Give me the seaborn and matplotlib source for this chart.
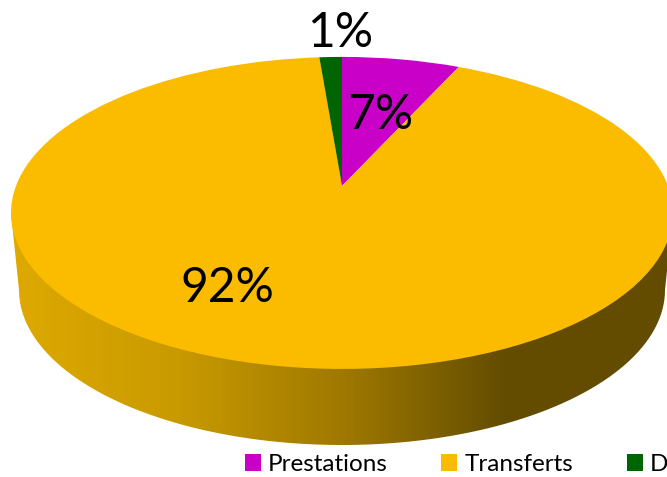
import numpy as np
import matplotlib
matplotlib.use('Agg')
import matplotlib.pyplot as plt
import seaborn as sns
from matplotlib.patches import PathPatch
from matplotlib.path import Path
from matplotlib.transforms import Transform

# data
categories = ['Prestations', 'Transferts', 'Dettes']
shares = [6.8, 91.9, 1.3]
slice_colors = ['#C800C8', '#FBBC00', '#006400']
wall_colors = ['#DEA900', '#C99A00', '#9F7900', '#634C00', '#634C00']

sns.set_theme(style='white')
plt.rcParams['font.family'] = ['Lato', 'DejaVu Sans']

# geometry of the tilted disc, in picture pixels
APEX_X, APEX_Y = 342, 186
SCALE_X, SCALE_Y, TILT = 326, 151.3, 0.173


class Tilt(Transform):
    # maps the flat pie circle onto the perspective ellipse
    input_dims = 2
    output_dims = 2

    def transform_non_affine(self, values):
        values = np.asarray(values)
        w = 1 + TILT * values[:, 1]
        return np.column_stack([APEX_X + SCALE_X * values[:, 0] / w,
                                APEX_Y - SCALE_Y * values[:, 1] / w])


fig, ax = plt.subplots(figsize=(6.67, 4.771), dpi=100, facecolor='white')
fig.subplots_adjust(0, 0, 1, 1)

wedges, _, pcts = ax.pie(shares, colors=slice_colors, startangle=90, counterclock=False,
                         autopct='%.0f%%', textprops={'fontsize': 34.5, 'color': 'black'})
tilt = Tilt() + ax.transData
for w in wedges:
    w.set_transform(tilt)
    w.set_zorder(3)
    w.set_linewidth(0)

# side wall: rim of the top ellipse down to a lower ellipse, with horizontal shading
t = np.linspace(0, np.pi, 200)
low_x = 342 + 323 * np.cos(t)
low_y = 290 + 155 * np.sin(t)
wall = np.column_stack([np.r_[673, low_x, 11, 342], np.r_[213, low_y, 213, 186]])
wall_clip = PathPatch(Path(wall), transform=ax.transData, fc='none', ec='none')
ax.add_patch(wall_clip)
wall_cmap = sns.blend_palette(wall_colors, 256, as_cmap=True)
shade = ax.imshow(np.linspace(0, 1, 256)[None, :], cmap=wall_cmap, aspect='auto',
                  extent=(11, 673, 445, 186), zorder=1)
shade.set_clip_path(wall_clip)

ax.set_aspect('auto')
ax.set_xlim(0, 667)
ax.set_ylim(477, 0)
ax.axis('off')

label_spots = [(380, 115), (227, 288), (340, 33)]
for txt, spot in zip(pcts, label_spots):
    txt.set_transform(ax.transData)
    txt.set_position(spot)
    txt.set_zorder(5)

ax.legend(wedges, categories, ncol=3, frameon=False, loc='lower left',
          bbox_to_anchor=(245, 475), bbox_transform=ax.transData,
          fontsize=17.5, labelcolor='black', borderpad=0, borderaxespad=0,
          handlelength=0.66, handleheight=0.66, handletextpad=0.29, columnspacing=2.2)

fig.savefig('out.png', dpi=100, facecolor='white')
